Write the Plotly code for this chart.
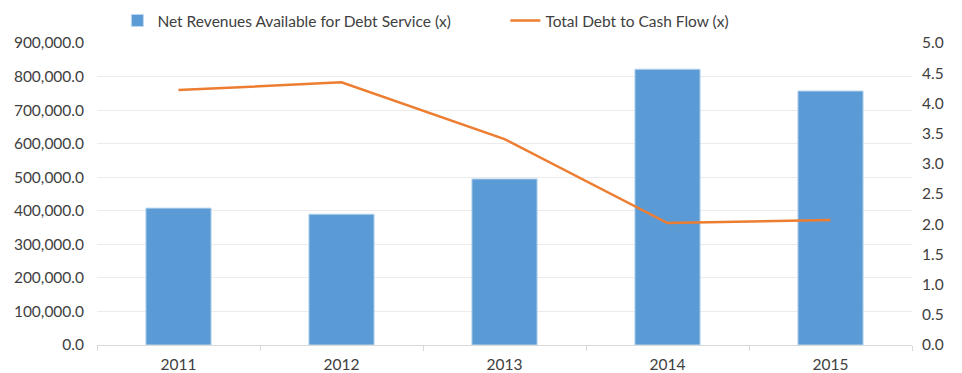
import plotly.graph_objects as go

years = ["2011", "2012", "2013", "2014", "2015"]
net_revenues = [408000, 390000, 495000, 822000, 757000]
debt_to_cash_flow = [4.22, 4.35, 3.41, 2.02, 2.07]

left_ticks = [0, 100000, 200000, 300000, 400000, 500000, 600000, 700000, 800000, 900000]
left_labels = [f"{v:,.1f}" for v in left_ticks]
right_ticks = [0, 0.5, 1.0, 1.5, 2.0, 2.5, 3.0, 3.5, 4.0, 4.5, 5.0]
right_labels = [f"{v:.1f}" for v in right_ticks]

FONT = "Lato"
TXT = "#404040"
FS = 15.5

fig = go.Figure()
fig.add_trace(go.Bar(
    x=years, y=net_revenues, name="Net Revenues Available for Debt Service (x)",
    marker=dict(color="#5B9BD5", line=dict(color="#BDD7EE", width=1)),
    width=0.4, yaxis="y",
))
fig.add_trace(go.Scatter(
    x=years, y=debt_to_cash_flow, name="Total Debt to Cash Flow (x)",
    mode="lines", line=dict(color="#ED7D31", width=2.5), yaxis="y2",
))

fig.update_layout(
    width=962, height=373,
    margin=dict(l=97, r=50, t=43, b=28, autoexpand=False),
    paper_bgcolor="white", plot_bgcolor="white",
    font=dict(family=FONT, size=FS, color=TXT),
    legend=dict(
        orientation="h", x=0.025, xanchor="left", y=0.944, yanchor="middle",
        xref="paper", yref="container",
        font=dict(family=FONT, size=FS, color=TXT),
        entrywidth=343, entrywidthmode="pixels",
        bgcolor="rgba(0,0,0,0)",
    ),
    xaxis=dict(
        type="category", showgrid=False, showline=True, linecolor="#D9D9D9", linewidth=1,
        ticks="outside", tickson="boundaries", ticklen=5, tickcolor="#D9D9D9",
        tickfont=dict(family=FONT, size=FS, color=TXT), ticklabelstandoff=5,
        automargin=False,
    ),
    yaxis=dict(
        range=[0, 900000], tickvals=left_ticks, ticktext=left_labels,
        showgrid=True, gridcolor="#EBEBEB", gridwidth=1, zeroline=False,
        showline=False, tickfont=dict(family=FONT, size=FS, color=TXT), ticklabelstandoff=12,
        automargin=False,
    ),
    yaxis2=dict(
        range=[0, 5], tickvals=right_ticks, ticktext=right_labels,
        overlaying="y", side="right", showgrid=False, zeroline=False, showline=False,
        tickfont=dict(family=FONT, size=FS, color=TXT), ticklabelstandoff=9,
        automargin=False,
    ),
)

fig.write_html("out.html")
